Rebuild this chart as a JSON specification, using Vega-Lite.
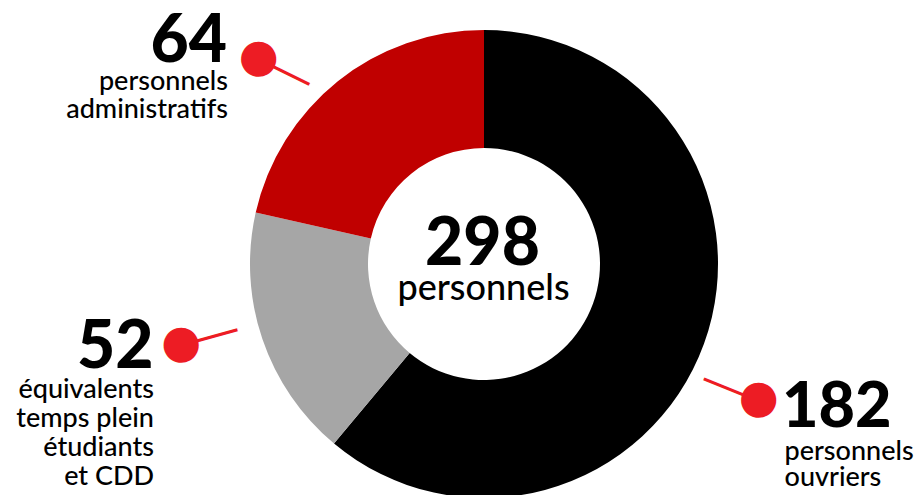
{
  "$schema": "https://vega.github.io/schema/vega-lite/v6.json",
  "width": 870,
  "height": 462,
  "autosize": {"type": "none"},
  "padding": {"left": 49, "top": 33, "right": 0, "bottom": 0},
  "background": "white",
  "config": {"view": {"stroke": null}},
  "data": {
    "values": [
      {"cat": "ouvriers", "value": 182, "order": 1, "desc": "personnels\nouvriers"},
      {"cat": "etudiants", "value": 52, "order": 2, "desc": "équivalents\ntemps plein\nétudiants\net CDD"},
      {"cat": "admin", "value": 64, "order": 3, "desc": "personnels\nadministratifs"}
    ]
  },
  "transform": [{"joinaggregate": [{"op": "sum", "field": "value", "as": "total"}]}],
  "encoding": {
    "theta": {"field": "value", "type": "quantitative", "stack": true},
    "order": {"field": "order", "type": "quantitative"},
    "detail": {"field": "cat", "type": "nominal"}
  },
  "layer": [
    {
      "mark": {"type": "arc", "outerRadius": 234, "innerRadius": 116},
      "encoding": {
        "color": {"field": "cat", "type": "nominal", "legend": null,
          "scale": {"domain": ["ouvriers", "etudiants", "admin"], "range": ["#000000", "#a6a6a6", "#c00000"]}}
      }
    },
    {
      "mark": {"type": "text", "radius": 300, "angle": 26.3, "dx": 12.7, "dy": 40.9, "align": "center", "baseline": "middle", "font": "Liberation Sans", "fontSize": 46, "color": "#ed1c24"},
      "encoding": {"text": {"condition": {"test": "datum.cat === 'admin'", "value": "—"}, "value": ""}}
    },
    {
      "mark": {"type": "text", "radius": 300, "angle": 344.5, "dx": 21.4, "dy": -21.8, "align": "center", "baseline": "middle", "font": "Liberation Sans", "fontSize": 46, "color": "#ed1c24"},
      "encoding": {"text": {"condition": {"test": "datum.cat === 'etudiants'", "value": "—"}, "value": ""}}
    },
    {
      "mark": {"type": "text", "radius": 300, "angle": 21.9, "dx": -30.0, "dy": 32.7, "align": "center", "baseline": "middle", "font": "Liberation Sans", "fontSize": 46, "color": "#ed1c24"},
      "encoding": {"text": {"condition": {"test": "datum.cat === 'ouvriers'", "value": "—"}, "value": ""}}
    },
    {
      "mark": {"type": "text", "radius": 300, "dx": -38.1, "dy": 26.8, "align": "center", "baseline": "middle", "font": "DejaVu Sans", "fontSize": 46, "color": "#ed1c24"},
      "encoding": {"text": {"condition": {"test": "datum.cat === 'admin'", "value": "●"}, "value": ""}}
    },
    {
      "mark": {"type": "text", "radius": 300, "dx": -18.9, "dy": -17.3, "align": "center", "baseline": "middle", "font": "DejaVu Sans", "fontSize": 46, "color": "#ed1c24"},
      "encoding": {"text": {"condition": {"test": "datum.cat === 'etudiants'", "value": "●"}, "value": ""}}
    },
    {
      "mark": {"type": "text", "radius": 300, "dx": -7.5, "dy": 32.2, "align": "center", "baseline": "middle", "font": "DejaVu Sans", "fontSize": 46, "color": "#ed1c24"},
      "encoding": {"text": {"condition": {"test": "datum.cat === 'ouvriers'", "value": "●"}, "value": ""}}
    },
    {
      "mark": {"type": "text", "radius": 300, "dx": -69.6, "dy": 31.8, "align": "right", "baseline": "alphabetic", "font": "Lato", "fontWeight": 900, "fontSize": 66, "color": "#000000"},
      "encoding": {"text": {"condition": {"test": "datum.cat === 'admin'", "field": "value", "type": "quantitative"}, "value": ""}}
    },
    {
      "mark": {"type": "text", "radius": 300, "dx": -46.4, "dy": 7.7, "align": "right", "baseline": "alphabetic", "font": "Lato", "fontWeight": 900, "fontSize": 66, "color": "#000000"},
      "encoding": {"text": {"condition": {"test": "datum.cat === 'etudiants'", "field": "value", "type": "quantitative"}, "value": ""}}
    },
    {
      "mark": {"type": "text", "radius": 300, "dx": 16, "dy": 61, "align": "left", "baseline": "alphabetic", "font": "Lato", "fontWeight": 900, "fontSize": 63, "color": "#000000"},
      "encoding": {"text": {"condition": {"test": "datum.cat === 'ouvriers'", "field": "value", "type": "quantitative"}, "value": ""}}
    },
    {
      "mark": {"type": "text", "radius": 300, "dx": -68.6, "dy": 59.8, "align": "right", "baseline": "alphabetic", "lineBreak": "\n", "lineHeight": 28, "font": "Lato", "fontWeight": 500, "fontSize": 27, "color": "#000000"},
      "encoding": {"text": {"condition": {"test": "datum.cat === 'admin'", "field": "desc", "type": "nominal"}, "value": ""}}
    },
    {
      "mark": {"type": "text", "radius": 300, "dx": -45.9, "dy": 37.2, "align": "right", "baseline": "alphabetic", "lineBreak": "\n", "lineHeight": 29, "font": "Lato", "fontWeight": 500, "fontSize": 27, "color": "#000000"},
      "encoding": {"text": {"condition": {"test": "datum.cat === 'etudiants'", "field": "desc", "type": "nominal"}, "value": ""}}
    },
    {
      "mark": {"type": "text", "radius": 300, "dx": 18.5, "dy": 93.7, "align": "left", "baseline": "alphabetic", "lineBreak": "\n", "lineHeight": 26, "font": "Lato", "fontWeight": 500, "fontSize": 27, "color": "#000000"},
      "encoding": {"text": {"condition": {"test": "datum.cat === 'ouvriers'", "field": "desc", "type": "nominal"}, "value": ""}}
    },
    {
      "mark": {"type": "text", "radius": 0, "dx": -1.5, "dy": 1, "align": "center", "baseline": "alphabetic", "font": "Lato", "fontWeight": 900, "fontSize": 66, "color": "#000000"},
      "encoding": {"text": {"condition": {"test": "datum.cat === 'ouvriers'", "field": "total", "type": "quantitative"}, "value": ""}}
    },
    {
      "mark": {"type": "text", "radius": 0, "dx": -0.5, "dy": 36, "align": "center", "baseline": "alphabetic", "font": "Lato", "fontWeight": 500, "fontSize": 36, "color": "#000000"},
      "encoding": {"text": {"condition": {"test": "datum.cat === 'ouvriers'", "value": "personnels"}, "value": ""}}
    }
  ]
}
